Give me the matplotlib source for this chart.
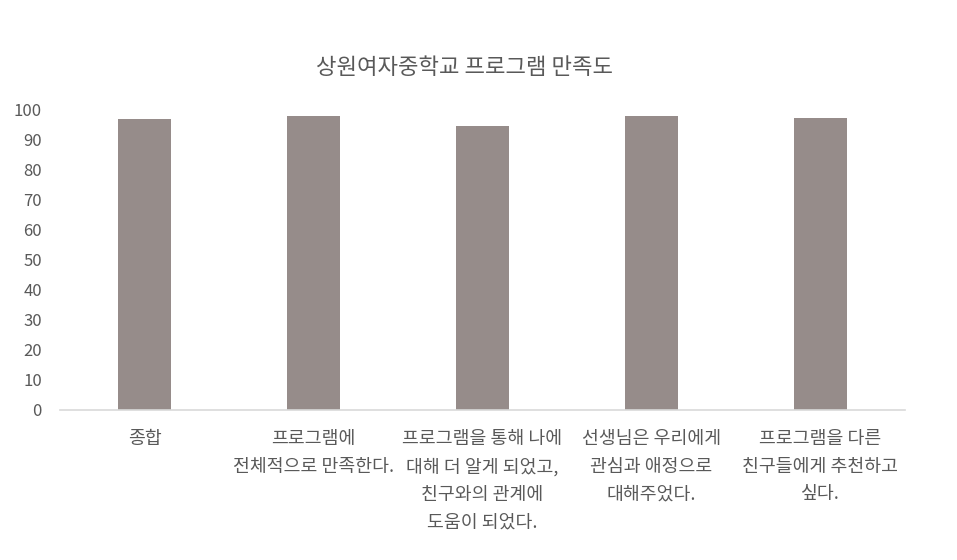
import matplotlib
matplotlib.use("Agg")
import matplotlib.pyplot as plt

plt.rcParams['font.family'] = ['Noto Sans CJK KR', 'DejaVu Sans']

title = "상원여자중학교 프로그램 만족도"
categories = [
    "종합",
    "프로그램에\n전체적으로 만족한다.",
    "프로그램을 통해 나에\n대해 더 알게 되었고,\n친구와의 관계에\n도움이 되었다.",
    "선생님은 우리에게\n관심과 애정으로\n대해주었다.",
    "프로그램을 다른\n친구들에게 추천하고\n싶다.",
]
values = [96.8, 97.8, 94.5, 97.8, 97.2]
yticks = [0, 10, 20, 30, 40, 50, 60, 70, 80, 90, 100]

text_color = "#595959"
bar_color = "#968C8A"

fig = plt.figure(figsize=(9.57, 5.6), dpi=100)
ax = fig.add_axes([60/957, 1-409.5/560, 845/957, 300/560])
x = list(range(len(categories)))
ax.bar(x, values, width=0.314, color=bar_color, zorder=2)
ax.set_xlim(-0.5, len(categories)-0.5)
ax.set_ylim(0, 100)
ax.set_yticks(yticks)
ax.set_yticklabels([str(v) for v in yticks])
ax.set_xticks(x)
ax.set_xticklabels(categories, linespacing=1.67, va='top')
for s in ['top', 'right', 'left']:
    ax.spines[s].set_visible(False)
ax.spines['bottom'].set_color('#D9D9D9')
ax.spines['bottom'].set_linewidth(1.2)
ax.tick_params(axis='both', length=0, colors=text_color)
ax.tick_params(axis='y', labelsize=12, pad=13)
ax.tick_params(axis='x', labelsize=13.2, pad=15)
fig.text(464/957, 1-67/560, title, ha='center', va='center', fontsize=16, color=text_color)
fig.savefig("out.png", dpi=100)
